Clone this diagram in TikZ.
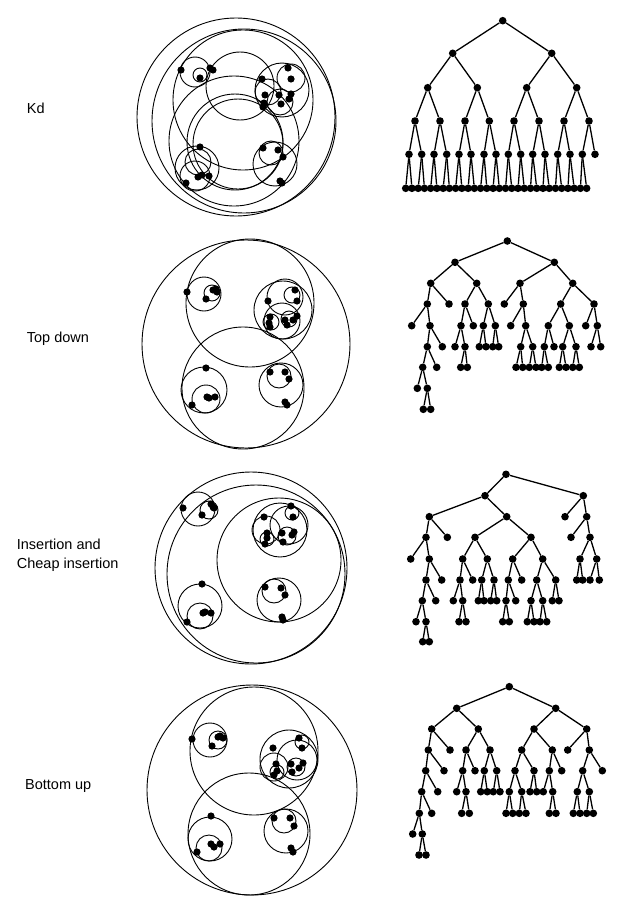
\documentclass[tikz,border=0pt]{standalone}
\usepackage{fontspec}
\setmainfont{Liberation Sans}
\begin{document}
\begin{tikzpicture}[x=1pt,y=-1pt,
  ring/.style={draw=black,line width=0.9pt},
  tn/.style={circle,fill=black,inner sep=0pt,minimum size=7.6pt},
  edge/.style={draw=black,line width=1.3pt},
  lbl/.style={anchor=base west,inner sep=0pt,font=\fontsize{14.5}{19}\selectfont,align=left}]
\useasboundingbox (0,0) rectangle (643,907);
\fill[white] (0,0) rectangle (643,907);
\def\dotr{3.6pt}

% ---------- labels ----------
\node[lbl] (lkd) at (26.7,113) {Kd};
\node[lbl] (ltd) at (26.7,342.7) {Top down};
\node[lbl] (lins) at (16.7,568.3) {Insertion and\\Cheap insertion};
\node[lbl] (lbu) at (25,789.7) {Bottom up};

% ---------- Kd circles ----------
\foreach \x/\y/\r in {236/117/99, 244/121/92, 243/100/70, 240/86/34, 234/141/65, 235/142/48, 238/144/45,
  195/72/15, 200/75/7, 282/90/27, 291/78/14, 268/92/13, 280/102/13,
  197/168/22, 198/162/13, 195/176/15, 275/164/22, 271/153/12}
  \draw[ring] (\x,\y) circle[radius=\r pt];
\foreach \x/\y in {181/70, 210/68, 213/70, 200/78, 262/79, 288/68, 291/79, 265/95, 279/95, 291/94, 289/99, 263/107, 264/103, 281/104,
  200/147, 198/177, 202/175, 209/176, 186/183, 263/148, 278/150, 283/157, 280/181, 282/183}
  \fill (\x,\y) circle[radius=\dotr];

% ---------- Top down circles ----------
\foreach \x/\y/\r in {246/344/104, 250/303/64, 243/388/61, 204/294/17, 212/293/8,
  283/310/29, 285/297/18, 282/321/18, 271/322/8, 289/319/8, 292/295/8,
  204/390/23, 206/399/14, 281/385/22, 279/376/12}
  \draw[ring] (\x,\y) circle[radius=\r pt];
\foreach \x/\y in {187/292, 206/299, 216/289, 217/292, 213/290,
  295/290, 297/301, 268/301, 270/317, 269/323, 270/327, 285/320, 287/325, 293/320, 297/316,
  206/368, 207/397, 209/398, 215/397, 192/405, 270/372, 285/372, 289/379, 285/402, 287/405}
  \fill (\x,\y) circle[radius=\dotr];

% ---------- Insertion circles ----------
\foreach \x/\y/\r in {251/568/96, 256/574/89, 279/560/62, 198/509/17, 209/510/9,
  200/606/22, 200/616/13, 280/530/27, 266/530/14, 289/525/19, 292/513/7, 287/536/9, 267/539/7,
  279/600/22, 274/591/12}
  \draw[ring] (\x,\y) circle[radius=\r pt];
\foreach \x/\y in {183/508, 202/515, 211/504, 213/507, 214/508,
  291/506, 293/517, 264/517, 267/533, 267/538, 265/544, 282/533, 283/542, 292/535, 294/532,
  202/584, 203/613, 205/612, 211/613, 187/622, 265/587, 281/588, 285/595, 282/617, 283/620}
  \fill (\x,\y) circle[radius=\dotr];

% ---------- Bottom up circles ----------
\foreach \x/\y/\r in {252/790/105, 254/751/64, 249/834/61, 210/740/17, 218/740/9,
  289/759/29, 274/767/14, 297/760/20, 302/742/7, 296/767/9, 277/772/7,
  210/839/22, 209/848/13, 286/831/22, 284/821/12}
  \draw[ring] (\x,\y) circle[radius=\r pt];
\foreach \x/\y in {192/739, 212/746, 220/736, 223/738, 218/737,
  299/738, 302/748, 273/748, 276/764, 277/771, 274/775, 291/764, 292/772, 299/768, 303/763,
  211/816, 211/844, 214/847, 220/844, 197/852, 274/818, 290/818, 294/826, 291/848, 293/852}
  \fill (\x,\y) circle[radius=\dotr];

% ---------- Kd tree ----------
\node[tn] (k0-0) at (502.7,20.7) {};
\foreach \i/\x in {0/452.7,1/551.7} \node[tn] (k1-\i) at (\x,53.3) {};
\foreach \i/\x in {0/427.7,1/477.3,2/526.7,3/576.7} \node[tn] (k2-\i) at (\x,87.7) {};
\foreach \i/\x in {0/415,1/440,2/465,3/489.3,4/514,5/539,6/564,7/589} \node[tn] (k3-\i) at (\x,121) {};
\foreach \i/\x in {0/409,1/421.7,2/434,3/446.7,4/459,5/471,6/484,7/496,8/508.3,9/520.7,10/532.7,11/545,12/557.7,13/570,14/582.3,15/595}
  \node[tn] (k4-\i) at (\x,154.3) {};
\foreach \i in {0,...,29} \node[tn] (k5-\i) at ({405.7+6.24*\i},188.3) {};
\foreach \l/\m/\n in {0/1/0, 1/2/1, 2/3/3, 3/4/7, 4/5/14} {
  \foreach \i in {0,...,\n} {
    \pgfmathtruncatemacro\ca{2*\i}\pgfmathtruncatemacro\cb{2*\i+1}
    \draw[edge] (k\l-\i) -- (k\m-\ca);
    \draw[edge] (k\l-\i) -- (k\m-\cb);
  }
}

% ---------- Top down tree ----------
\foreach \n/\x/\y in {r/507.3/241, A/455/262.3, B/554.3/262.3,
  A1/430.7/283.3, A2/476.7/283.3, B1/520/283.3, B2/572.7/283.3,
  A1a/427.3/304, A1b/449/304, A2a/465/304, A2b/488.3/304, B1a/504.3/304, B1b/523.3/304, B2a/560.7/304, B2b/594/304,
  A1a1/411.7/325.7, A1a2/430/325.7, A2a1/461/325.7, A2a2/473.3/325.7, A2b1/483.3/325.7, A2b2/495.3/325.7, B1b1/510.7/325.7, B1b2/525.7/325.7, B2a1/548.3/325.7, B2a2/569.3/325.7, B2b1/585.7/325.7, B2b2/597.3/325.7,
  X/427.3/346.7, Xl/442.3/346.7, c1/455/346.7, Y/465/346.7, d1/479.3/346.7, d2/486/346.7, d3/492.7/346.7, d4/498.7/346.7, Z1/520.7/346.7, Z2/532.7/346.7, Z3/544.3/346.7, e1/554/346.7, Z4/562.7/346.7, Z5/576/346.7, e2/591/346.7, e3/600.7/346.7,
  X1/422.7/367.3, X2/436.7/367.3, Y1/460.7/367.3, Y2/467.3/367.3, Z1a/516/367.3, Z1b/522.7/367.3, Z2a/529.3/367.3, Z2b/536/367.3, Z3a/541.7/367.3, Z3b/548.3/367.3, Z4a/559.3/367.3, Z4b/566/367.3, Z5a/572.7/367.3, Z5b/579.3/367.3,
  X1a/417.3/388.3, X1b/427.3/388.3, X1b1/423.3/409.3, X1b2/430.7/409.3}
  \node[tn] (p\n) at (\x,\y) {};
\foreach \a/\b in {r/A, r/B, A/A1, A/A2, B/B1, B/B2,
  A1/A1a, A1/A1b, A2/A2a, A2/A2b, B1/B1a, B1/B1b, B2/B2a, B2/B2b,
  A1a/A1a1, A1a/A1a2, A2a/A2a1, A2a/A2a2, A2b/A2b1, A2b/A2b2, B1b/B1b1, B1b/B1b2, B2a/B2a1, B2a/B2a2, B2b/B2b1, B2b/B2b2,
  A1a2/X, A1a2/Xl, A2a1/c1, A2a1/Y, A2b1/d1, A2b1/d2, A2b2/d3, A2b2/d4, B1b2/Z1, B1b2/Z2, B2a1/Z3, B2a1/e1, B2a2/Z4, B2a2/Z5, B2b2/e2, B2b2/e3,
  X/X1, X/X2, Y/Y1, Y/Y2, Z1/Z1a, Z1/Z1b, Z2/Z2a, Z2/Z2b, Z3/Z3a, Z3/Z3b, Z4/Z4a, Z4/Z4b, Z5/Z5a, Z5/Z5b,
  X1/X1a, X1/X1b, X1b/X1b1, X1b/X1b2}
  \draw[edge] (p\a) -- (p\b);

% ---------- Insertion tree ----------
\foreach \n/\x/\y in {r/506/474.3, A/485/495.7, B/583.3/495.7,
  A1/429.3/516.7, A2/506.7/516.7, B1/565/516.7, B2/586.7/516.7,
  A1a/426/537.3, A1b/447.3/537.3, A2a/475/537.3, A2b/531/537.3, B2a/571/537.3, B2b/590/537.3,
  A1a1/410.7/559, A1a2/429.3/559, A2a1/462.7/559, A2a2/487.3/559, A2b1/512.7/559, A2b2/542.7/559, B2b1/580/559, B2b2/596.7/559,
  X/426/580, Xl/441.7/580, Y/460/580, Yl/472.7/580, P1/481.7/580, P2/494/580, Q/508.3/580, Ql/521.7/580, R1/536.7/580, R2/555.7/580, s1/576.7/580, s2/582.7/580, s3/590/580, s4/599.3/580,
  X1/422.3/600.7, X2/435.7/600.7, Y1/453.3/600.7, Y2/462.7/600.7, P1a/478.3/600.7, P1b/484/600.7, P2a/490.7/600.7, P2b/496.7/600.7, Q1/506/600.7, Q2/515.7/600.7, R1a/531/600.7, R1b/542.7/600.7, R2a/552.3/600.7, R2b/559/600.7,
  X1a/416/621.7, X1b/426/621.7, Y2a/459/621.7, Y2b/466/621.7, Q1a/502.7/621.7, Q1b/509.3/621.7, R1aa/527.3/621.7, R1ab/534/621.7, R1ba/540/621.7, R1bb/546.7/621.7,
  X1b1/422.7/641.7, X1b2/429.3/641.7}
  \node[tn] (q\n) at (\x,\y) {};
\foreach \a/\b in {r/A, r/B, A/A1, A/A2, B/B1, B/B2, A1/A1a, A1/A1b, A2/A2a, A2/A2b, B2/B2a, B2/B2b,
  A1a/A1a1, A1a/A1a2, A2a/A2a1, A2a/A2a2, A2b/A2b1, A2b/A2b2, B2b/B2b1, B2b/B2b2,
  A1a2/X, A1a2/Xl, A2a1/Y, A2a1/Yl, A2a2/P1, A2a2/P2, A2b1/Q, A2b1/Ql, A2b2/R1, A2b2/R2, B2b1/s1, B2b1/s2, B2b2/s3, B2b2/s4,
  X/X1, X/X2, Y/Y1, Y/Y2, P1/P1a, P1/P1b, P2/P2a, P2/P2b, Q/Q1, Q/Q2, R1/R1a, R1/R1b, R2/R2a, R2/R2b,
  X1/X1a, X1/X1b, Y2/Y2a, Y2/Y2b, Q1/Q1a, Q1/Q1b, R1a/R1aa, R1a/R1ab, R1b/R1ba, R1b/R1bb,
  X1b/X1b1, X1b/X1b2}
  \draw[edge] (q\a) -- (q\b);

% ---------- Bottom up tree ----------
\foreach \n/\x/\y in {r/509.3/686.7, A/456.7/708.3, B/555.7/708.3,
  A1/431.7/729, A2/478.3/729, B1/534/729, B2/586.7/729,
  A1a/428.3/750, A1b/450/750, A2a/466/750, A2b/490/750, B1a/521.7/750, B1b/552.3/750, B2a/567.7/750, B2b/589.3/750,
  A1a1/425.7/770.7, A1a2/444/770.7, A2a1/462.7/770.7, A2a2/475/770.7, A2b1/484.3/770.7, A2b2/496.7/770.7, B1a1/515/770.7, B1a2/534/770.7, B1b1/549.3/770.7, B1b2/561.7/770.7, B2b1/582.7/770.7, B2b2/602.3/770.7,
  C/421.7/791.7, Cl/437.7/791.7, D1/456.7/791.7, D2/466/791.7, E1/480.7/791.7, E2/487.3/791.7, E3/493.3/791.7, E4/500/791.7, F1/509.3/791.7, F2/521.7/791.7, F3/530/791.7, F4/536.7/791.7, G1/543.3/791.7, G2/552.7/791.7, H1/577.3/791.7, H2/589.3/791.7,
  C1/419.3/813.3, C2/431.7/813.3, D2a/461.7/813.3, D2b/469.3/813.3, F1a/506/813.3, F1b/512.7/813.3, F2a/519.3/813.3, F2b/526/813.3, G2a/549.3/813.3, G2b/556/813.3, H1a/573.3/813.3, H1b/580/813.3, H2a/586.7/813.3, H2b/593.3/813.3,
  C1a/412.7/834, C1b/422.3/834, C1b1/419/855, C1b2/426/855}
  \node[tn] (u\n) at (\x,\y) {};
\foreach \a/\b in {r/A, r/B, A/A1, A/A2, B/B1, B/B2,
  A1/A1a, A1/A1b, A2/A2a, A2/A2b, B1/B1a, B1/B1b, B2/B2a, B2/B2b,
  A1a/A1a1, A1a/A1a2, A2a/A2a1, A2a/A2a2, A2b/A2b1, A2b/A2b2, B1a/B1a1, B1a/B1a2, B1b/B1b1, B1b/B1b2, B2b/B2b1, B2b/B2b2,
  A1a1/C, A1a1/Cl, A2a1/D1, A2a1/D2, A2b1/E1, A2b1/E2, A2b2/E3, A2b2/E4, B1a1/F1, B1a1/F2, B1a2/F3, B1a2/F4, B1b1/G1, B1b1/G2, B2b1/H1, B2b1/H2,
  C/C1, C/C2, D2/D2a, D2/D2b, F1/F1a, F1/F1b, F2/F2a, F2/F2b, G2/G2a, G2/G2b, H1/H1a, H1/H1b, H2/H2a, H2/H2b,
  C1/C1a, C1/C1b, C1b/C1b1, C1b/C1b2}
  \draw[edge] (u\a) -- (u\b);
\end{tikzpicture}
\end{document}
